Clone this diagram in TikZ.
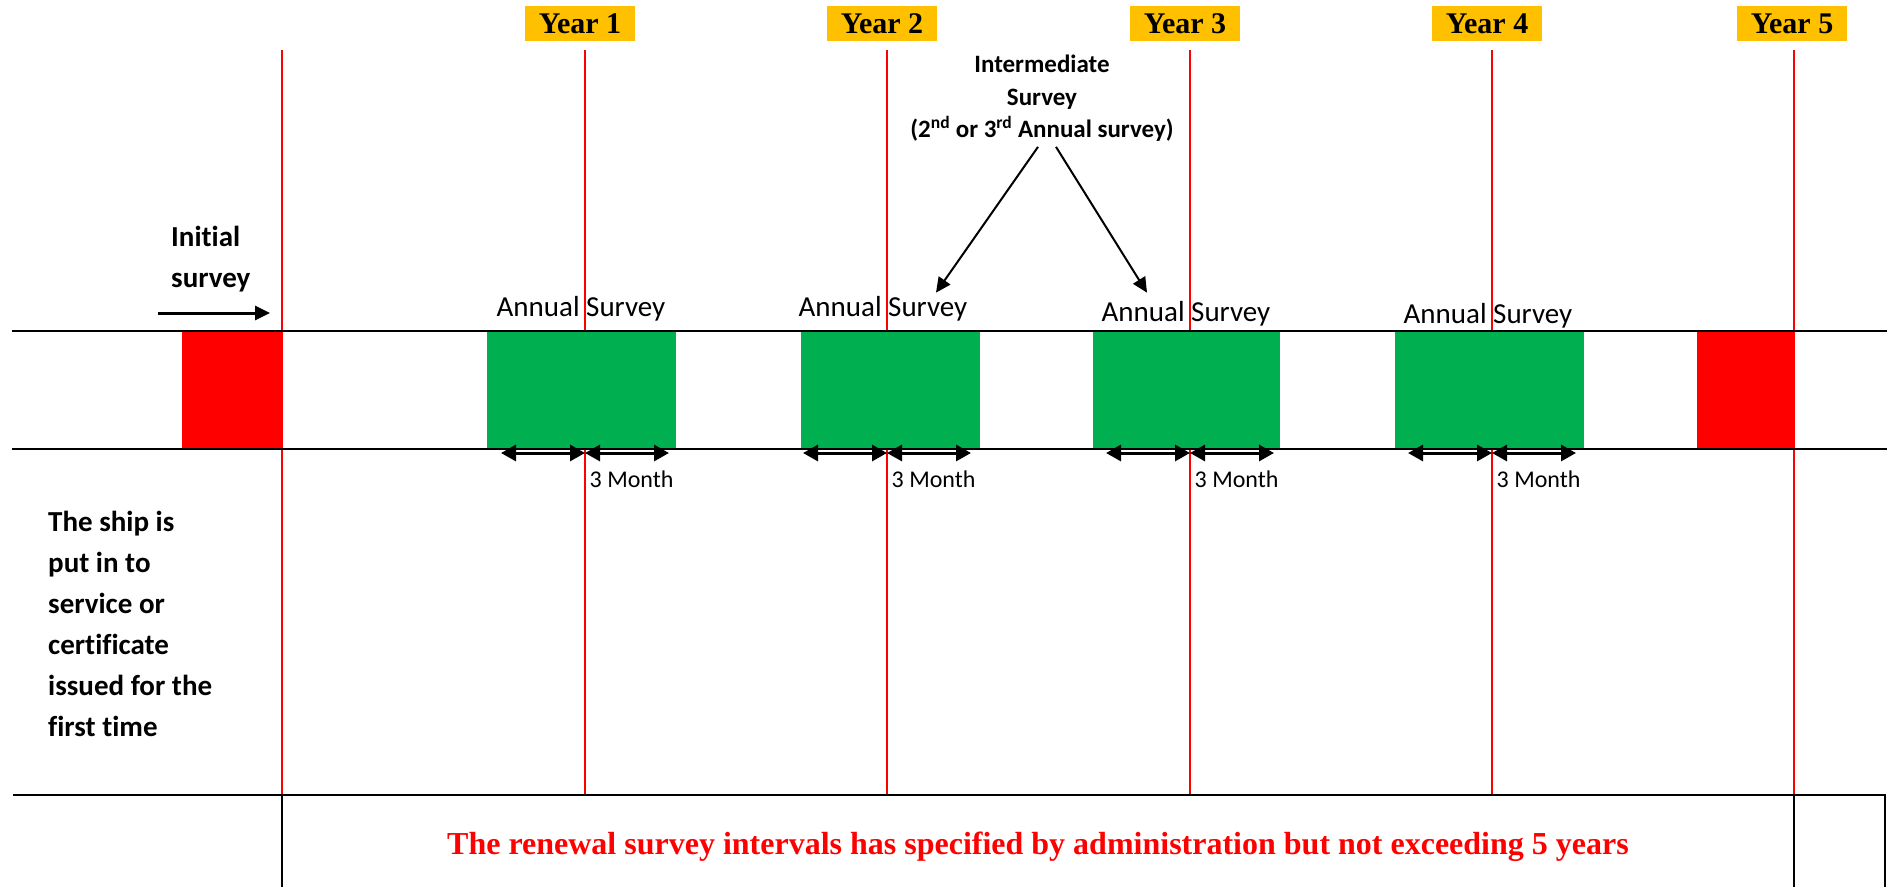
\documentclass[tikz,border=0pt]{standalone}
\usepackage{fontspec}
\setmainfont{Carlito}[RawFeature={-liga}]
\newfontfamily\timesfam{Liberation Serif}
\usetikzlibrary{arrows.meta}

\definecolor{survred}{HTML}{FF0000}
\definecolor{survgreen}{HTML}{00B050}
\definecolor{yearamber}{HTML}{FFC000}

\begin{document}
\begin{tikzpicture}[x=1pt,y=-1pt,
    yearline/.style={survred,line width=2pt},
    blackrule/.style={line width=2pt},
    yearbox/.style={fill=yearamber,minimum width=110pt,minimum height=35pt,inner sep=0pt,
      font=\timesfam\bfseries\fontsize{30}{36}\selectfont},
    annual/.style={anchor=base,inner sep=0pt,font=\fontsize{29}{35}\selectfont},
    monthlabel/.style={anchor=base west,inner sep=0pt,font=\fontsize{24}{29}\selectfont},
    monthspan/.style={{Triangle[length=15pt,width=16pt]}-{Triangle[length=15pt,width=16pt]},line width=3pt},
    pointer/.style={-{Triangle[length=15pt,width=14pt]},line width=2pt},
    sidenote/.style={inner sep=0pt,align=left,font=\bfseries\fontsize{29}{41}\selectfont}]
  \useasboundingbox (0,0) rectangle (1887,887);

  % year lines
  \foreach \x in {282,585,887,1190,1492,1794}
    \draw[yearline] (\x,50) -- (\x,795);

  % renewal windows
  \fill[survred] (182,331) rectangle (282,449);
  \fill[survred] (1697,331) rectangle (1794,449);

  % annual windows with their labels and 3 month spans
  \foreach \n/\x/\gl/\gr/\ya in {1/585/487/676/316,2/887/801/980/316,3/1190/1093/1280/321,4/1492/1395/1584/323}{
    \fill[survgreen] (\gl,331) rectangle (\gr,449);
    \node[annual] (as\n) at (\x-4,\ya) {Annual Survey};
    \coordinate (m\n) at (\x,453);
    \draw[monthspan] ([xshift=-84pt]m\n) -- (m\n);
    \draw[monthspan] (m\n) -- ([xshift=84pt]m\n);
    \node[monthlabel] (mo\n) at (\x+4.5,487) {3 Month};
  }

  % band and frame
  \draw[blackrule] (12,331) -- (1887,331);
  \draw[blackrule] (12,449) -- (1887,449);
  \draw[blackrule] (13,795) -- (1885,795) -- (1885,887);
  \draw[blackrule] (282,795) -- (282,887);
  \draw[blackrule] (1794,795) -- (1794,887);

  % years
  \foreach \n/\x in {1/580,2/882,3/1185,4/1487,5/1792}
    \node[yearbox] (year\n) at (\x,23.5) {Year \n};

  \node[sidenote,anchor=north west] (init) at (171,226) {Initial\\survey};
  \coordinate (initA) at (158,313);
  \coordinate (initB) at (270,313);
  \draw[pointer,line width=3pt] (initA) -- (initB);

  \node[sidenote,anchor=north west] (ship) at (48,511)
    {The ship is\\put in to\\service or\\certificate\\issued for the\\first time};

  \node[inner sep=0pt,align=center,anchor=north,font=\bfseries\fontsize{25}{32.5}\selectfont] (inter) at (1042,55)
    {Intermediate\\Survey\\(2\textsuperscript{nd} or 3\textsuperscript{rd} Annual survey)};
  \draw[pointer] ([xshift=-4pt,yshift=-5pt]inter.south) -- ([xshift=53pt,yshift=3pt]as2.north);
  \draw[pointer] ([xshift=14pt,yshift=-5pt]inter.south) -- ([xshift=-39pt,yshift=8pt]as3.north);

  \node[anchor=base,inner sep=0pt,text=survred,font=\timesfam\bfseries\fontsize{32}{38}\selectfont] (renewal) at (1038,854)
    {The renewal survey intervals has specified by administration but not exceeding 5 years};
\end{tikzpicture}
\end{document}
